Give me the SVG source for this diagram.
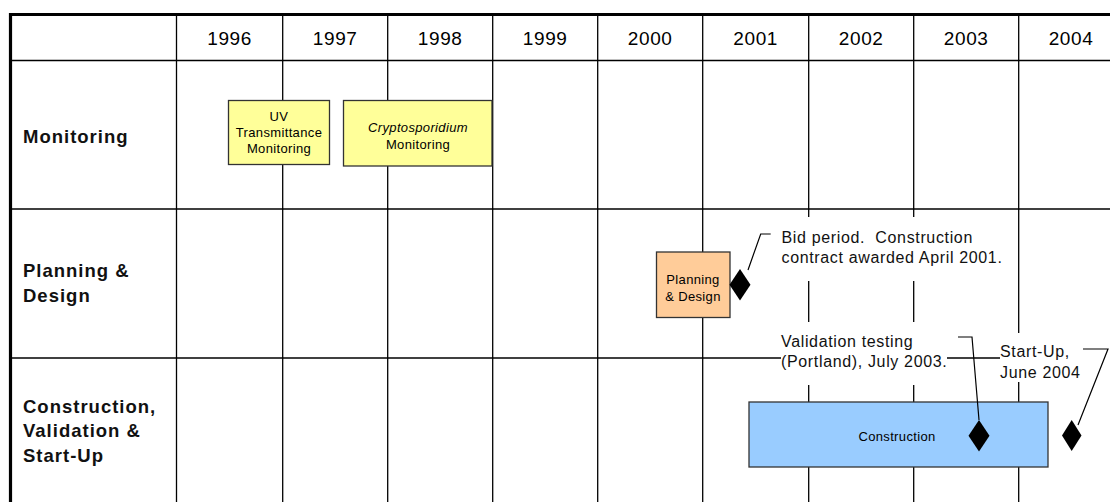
<svg xmlns="http://www.w3.org/2000/svg" width="1110" height="502" viewBox="0 0 1110 502">
<style>
  .grid { stroke: #000; stroke-width: 1.3; fill: none; }
  .thick { stroke: #000; stroke-width: 3.2; fill: none; }
  .year { font-family: "Liberation Sans", Arial, sans-serif; font-size: 19px; letter-spacing: 0.6px; fill: #000; text-anchor: middle; }
  .row { font-family: "Liberation Sans", Arial, sans-serif; font-size: 18.5px; font-weight: bold; letter-spacing: 1px; fill: #111; }
  .box { stroke: #333; stroke-width: 1.3; }
  .small { font-family: "Liberation Sans", Arial, sans-serif; font-size: 13px; letter-spacing: 0.35px; fill: #000; text-anchor: middle; }
  .note { font-family: "Liberation Sans", Arial, sans-serif; font-size: 16px; letter-spacing: 0.65px; fill: #111; white-space: pre; }
  .mask { fill: #fff; stroke: none; }
  .callout { stroke: #000; stroke-width: 1.2; fill: none; }
  .dia { fill: #000; }
</style>
<rect width="1110" height="502" fill="#fff"/>
<g id="grid">
  <line class="grid" x1="10" y1="60.5" x2="1110" y2="60.5"/>
  <line class="grid" x1="10" y1="209" x2="1110" y2="209"/>
  <line class="grid" x1="10" y1="358" x2="1110" y2="358"/>
  <line class="grid" x1="176.5" y1="14" x2="176.5" y2="502"/>
  <line class="grid" x1="282.7" y1="14" x2="282.7" y2="502"/>
  <line class="grid" x1="387.7" y1="14" x2="387.7" y2="502"/>
  <line class="grid" x1="492.7" y1="14" x2="492.7" y2="502"/>
  <line class="grid" x1="597.7" y1="14" x2="597.7" y2="502"/>
  <line class="grid" x1="702.7" y1="14" x2="702.7" y2="502"/>
  <line class="grid" x1="808.7" y1="14" x2="808.7" y2="502"/>
  <line class="grid" x1="913.7" y1="14" x2="913.7" y2="502"/>
  <line class="grid" x1="1018.7" y1="14" x2="1018.7" y2="502"/>
  <line class="thick" x1="9" y1="14.5" x2="1110" y2="14.5"/>
  <line class="thick" x1="10.5" y1="13" x2="10.5" y2="502"/>
</g>
<g id="years">
  <text class="year" x="229.6" y="45">1996</text>
  <text class="year" x="335.2" y="45">1997</text>
  <text class="year" x="440.2" y="45">1998</text>
  <text class="year" x="545.2" y="45">1999</text>
  <text class="year" x="650.2" y="45">2000</text>
  <text class="year" x="755.7" y="45">2001</text>
  <text class="year" x="861.2" y="45">2002</text>
  <text class="year" x="966.2" y="45">2003</text>
  <text class="year" x="1071" y="45">2004</text>
</g>
<g id="row-monitoring"><text class="row" x="23" y="143">Monitoring</text></g>
<g id="row-planning"><text class="row" x="23" y="277">Planning &amp;</text><text class="row" x="23" y="301.5">Design</text></g>
<g id="row-construction"><text class="row" x="23" y="412.5">Construction,</text><text class="row" x="23" y="437">Validation &amp;</text><text class="row" x="23" y="461.5">Start-Up</text></g>

<g id="uv-monitoring">
  <rect class="box" x="228.5" y="100.5" width="101" height="64" fill="#FFFF99"/>
  <text class="small" x="279" y="120.5">UV</text>
  <text class="small" x="279" y="137">Transmittance</text>
  <text class="small" x="279" y="153.3">Monitoring</text>
</g>
<g id="crypto-monitoring">
  <rect class="box" x="343.5" y="100.5" width="148.5" height="65.5" fill="#FFFF99"/>
  <text class="small" x="418" y="132.3" font-style="italic">Cryptosporidium</text>
  <text class="small" x="418" y="148.5">Monitoring</text>
</g>
<g id="planning-design">
  <rect class="box" x="656.5" y="252" width="73.5" height="65.5" fill="#FFCC99"/>
  <text class="small" x="693" y="284.3">Planning</text>
  <text class="small" x="693" y="301">&amp; Design</text>
</g>
<g id="construction">
  <rect class="box" x="749" y="402" width="299" height="65" fill="#99CCFF"/>
  <text class="small" x="897" y="441">Construction</text>
</g>

<g id="note-bid">
  <rect class="mask" x="771" y="217" width="240" height="64"/>
  <text class="note" x="781.5" y="242.7">Bid period.  Construction</text>
  <text class="note" x="781.5" y="263">contract awarded April 2001.</text>
</g>
<g id="note-validation">
  <rect class="mask" x="781" y="322" width="166" height="63"/>
  <text class="note" x="781" y="346.7">Validation testing</text>
  <text class="note" x="781" y="366.7">(Portland), July 2003.</text>
</g>
<g id="note-startup">
  <rect class="mask" x="1000" y="333" width="110" height="49"/>
  <text class="note" x="1000" y="357">Start-Up,</text>
  <text class="note" x="1000" y="377.5">June 2004</text>
</g>

<g id="connectors">
  <polyline class="callout" points="748,270 760.7,234 770.7,234"/>
  <polyline class="callout" points="958,337 972,337 979,420"/>
  <polyline class="callout" points="1083,349 1108,349 1078,425"/>
</g>
<g id="milestone-bid"><polygon class="dia" points="740,269 750.5,284.7 740,300.5 729.5,284.7"/></g>
<g id="milestone-validation"><polygon class="dia" points="979,420 989.5,435.7 979,451.5 968.5,435.7"/></g>
<g id="milestone-startup"><polygon class="dia" points="1071.7,420 1081.5,435.5 1071.7,451 1062,435.5"/></g>
</svg>
